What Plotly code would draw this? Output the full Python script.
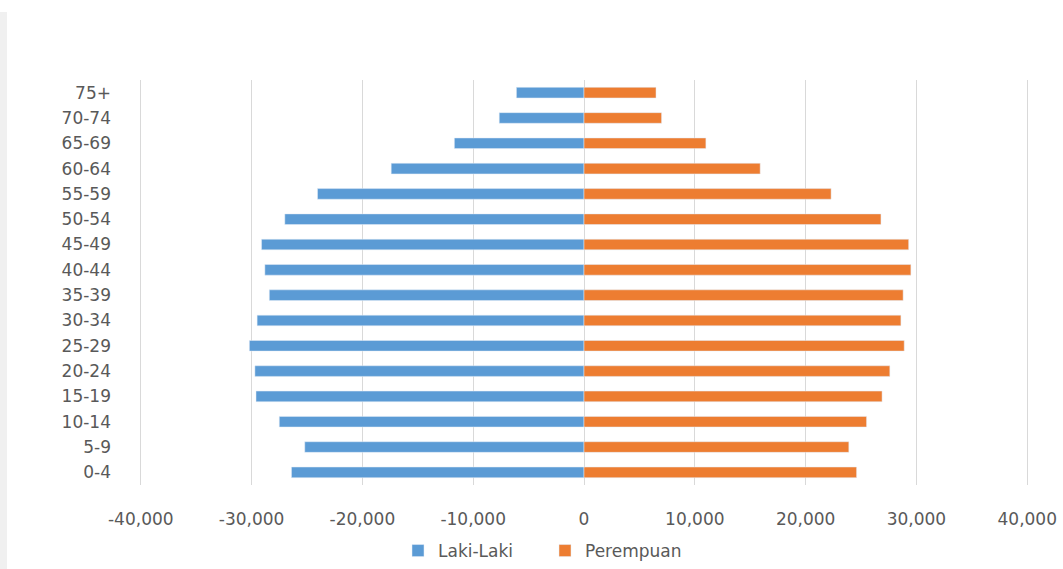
import plotly.graph_objects as go

# Age groups, bottom to top
age_groups = ["0-4", "5-9", "10-14", "15-19", "20-24", "25-29", "30-34", "35-39",
              "40-44", "45-49", "50-54", "55-59", "60-64", "65-69", "70-74", "75+"]

# Population counts per age group
laki_laki = [26400, 25200, 27500, 29600, 29700, 30200, 29500, 28400,
             28800, 29100, 27000, 24050, 17400, 11700, 7650, 6100]
perempuan = [24600, 23900, 25500, 26900, 27600, 28900, 28600, 28800,
             29500, 29300, 26800, 22300, 15900, 11000, 7000, 6500]

tick_vals = [-40000, -30000, -20000, -10000, 0, 10000, 20000, 30000, 40000]
tick_text = ["-40,000", "-30,000", "-20,000", "-10,000", "0",
             "10,000", "20,000", "30,000", "40,000"]

FONT = "DejaVu Sans, Verdana, sans-serif"
GREY = "#595959"

fig = go.Figure()
fig.add_trace(go.Bar(
    y=age_groups, x=[-v for v in laki_laki], customdata=laki_laki,
    orientation="h", name="Laki-Laki", marker_color="#5B9BD5",
    hovertemplate="%{y}: %{customdata:,}<extra>Laki-Laki</extra>",
))
fig.add_trace(go.Bar(
    y=age_groups, x=perempuan,
    orientation="h", name="Perempuan", marker_color="#ED7D31",
    hovertemplate="%{y}: %{x:,}<extra>Perempuan</extra>",
))

# light frame edge on the left of the chart
fig.add_shape(type="rect", xref="paper", yref="paper",
              x0=-138 / 892, x1=-131 / 892, y0=-84 / 405, y1=(405 + 68) / 405,
              fillcolor="#F0F0F0", line_width=0, layer="below")

fig.update_layout(
    width=1063, height=569,
    barmode="relative", bargap=0.58,
    plot_bgcolor="white", paper_bgcolor="white",
    margin=dict(l=138, r=33, t=80, b=84, autoexpand=False),
    font=dict(family=FONT, size=17, color=GREY),
    showlegend=True,
    legend=dict(orientation="h", x=(398 - 138) / 892, xanchor="left",
                yref="container", y=18 / 569, yanchor="middle",
                font=dict(family=FONT, size=17, color=GREY),
                itemwidth=30, entrywidth=102, entrywidthmode="pixels",
                traceorder="normal"),
    xaxis=dict(range=[-40250, 40250], tickvals=tick_vals, ticktext=tick_text,
               showgrid=True, gridcolor="#D9D9D9", gridwidth=1,
               zeroline=False, showline=False, ticks="", ticklen=0,
               ticklabelstandoff=22, automargin=False,
               tickfont=dict(family=FONT, size=17, color=GREY)),
    yaxis=dict(categoryorder="array", categoryarray=age_groups,
               showgrid=False, zeroline=False, showline=False, ticks="",
               ticklabelstandoff=26, automargin=False,
               tickfont=dict(family=FONT, size=17, color=GREY)),
)

fig.write_html("out.html")
